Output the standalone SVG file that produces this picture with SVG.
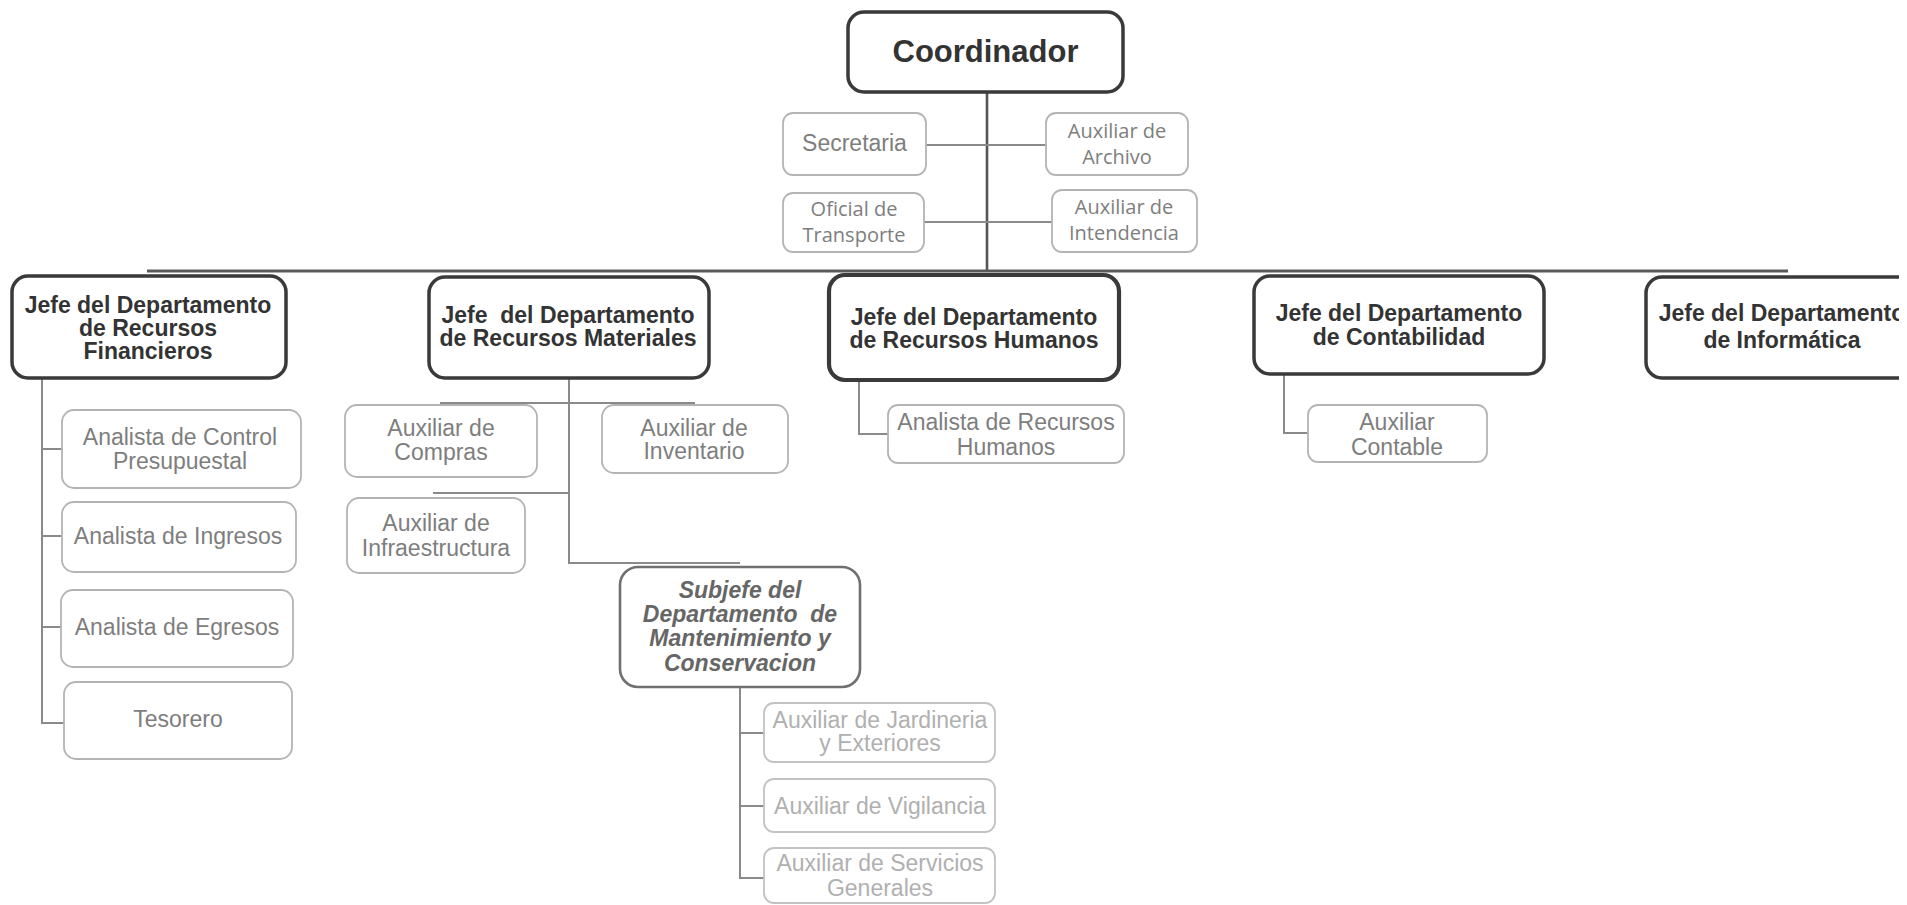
<svg xmlns="http://www.w3.org/2000/svg" width="1907" height="905" viewBox="0 0 1907 905">
<style>
  .head { fill: #ffffff; stroke: #3a3a3a; stroke-width: 3.5; }
  .sub { fill: #ffffff; stroke: #b4b4b4; stroke-width: 1.8; }
  .light { fill: #ffffff; stroke: #c2c2c2; stroke-width: 1.8; }
  .subjefe { fill: #ffffff; stroke: #707070; stroke-width: 2.6; }
  .ht { font-family: "Liberation Sans", Arial, sans-serif; font-weight: bold; font-size: 23px; fill: #333333; text-anchor: middle; }
  .st { font-family: "Liberation Sans", Arial, sans-serif; font-size: 23px; fill: #7e7e7e; text-anchor: middle; }
  .ct { font-family: "Open Sans", "Noto Sans", sans-serif; font-size: 20px; fill: #7e7e7e; text-anchor: middle; }
  .lt { font-family: "Liberation Sans", Arial, sans-serif; font-size: 23px; fill: #b0b0b0; text-anchor: middle; }
  .sj { font-family: "Liberation Sans", Arial, sans-serif; font-weight: bold; font-style: italic; font-size: 23px; fill: #666666; text-anchor: middle; white-space: pre; }
  .c { fill: none; stroke: #8a8a8a; stroke-width: 2; }
  .cd { fill: none; stroke: #555555; stroke-width: 2.6; }
  .bus { fill: none; stroke: #5a5a5a; stroke-width: 3; }
</style>
<defs>
  <clipPath id="clipRight"><rect x="0" y="0" width="1899" height="905"/></clipPath>
</defs>
<rect x="0" y="0" width="1907" height="905" fill="#ffffff"/>

<g id="connectors">
  <line class="cd" x1="987" y1="92" x2="987" y2="271"/>
  <line class="c" x1="926" y1="145" x2="1046" y2="145"/>
  <line class="c" x1="924" y1="222" x2="1052" y2="222"/>
  <line class="bus" x1="147" y1="271" x2="1788" y2="271"/>
  <!-- Financieros -->
  <polyline class="c" points="42,378 42,723 64,723"/>
  <line class="c" x1="42" y1="449" x2="62" y2="449"/>
  <line class="c" x1="42" y1="536" x2="62" y2="536"/>
  <line class="c" x1="42" y1="627" x2="61" y2="627"/>
  <!-- Materiales -->
  <polyline class="c" points="569,378 569,563 740,563"/>
  <line class="c" x1="440" y1="403" x2="695" y2="403"/>
  <line class="c" x1="433" y1="493" x2="569" y2="493"/>
  <!-- Subjefe -->
  <polyline class="c" points="740,687 740,878 764,878"/>
  <line class="c" x1="740" y1="733" x2="764" y2="733"/>
  <line class="c" x1="740" y1="806" x2="764" y2="806"/>
  <!-- Humanos -->
  <polyline class="c" points="859,380 859,434 888,434"/>
  <!-- Contabilidad -->
  <polyline class="c" points="1284,374 1284,433 1308,433"/>
</g>

<g id="coordinador">
  <rect class="head" x="848" y="12" width="275" height="80" rx="16"/>
  <text class="ht" x="985.5" y="62" style="font-size:31px">Coordinador</text>
</g>
<g id="secretaria">
  <rect class="sub" x="783" y="113" width="143" height="62" rx="10"/>
  <text class="st" x="854.5" y="151">Secretaria</text>
</g>
<g id="aux-archivo">
  <rect class="sub" x="1046" y="113" width="142" height="62" rx="10"/>
  <text class="ct" x="1117" y="138">Auxiliar de</text>
  <text class="ct" x="1117" y="164">Archivo</text>
</g>
<g id="oficial-transporte">
  <rect class="sub" x="783" y="193" width="141" height="59" rx="10"/>
  <text class="ct" x="854" y="216">Oficial de</text>
  <text class="ct" x="854" y="242">Transporte</text>
</g>
<g id="aux-intendencia">
  <rect class="sub" x="1052" y="190" width="145" height="62" rx="10"/>
  <text class="ct" x="1124" y="214">Auxiliar de</text>
  <text class="ct" x="1124" y="240">Intendencia</text>
</g>

<g id="jefe-financieros">
  <rect class="head" x="12" y="276" width="274" height="102" rx="16"/>
  <text class="ht" x="148" y="313">Jefe del Departamento</text>
  <text class="ht" x="148" y="336">de Recursos</text>
  <text class="ht" x="148" y="359">Financieros</text>
</g>
<g id="analista-control">
  <rect class="sub" x="62" y="410" width="239" height="78" rx="12"/>
  <text class="st" x="180" y="445">Analista de Control</text>
  <text class="st" x="180" y="469">Presupuestal</text>
</g>
<g id="analista-ingresos">
  <rect class="sub" x="62" y="502" width="234" height="70" rx="12"/>
  <text class="st" x="178" y="544">Analista de Ingresos</text>
</g>
<g id="analista-egresos">
  <rect class="sub" x="61" y="590" width="232" height="77" rx="12"/>
  <text class="st" x="177" y="635">Analista de Egresos</text>
</g>
<g id="tesorero">
  <rect class="sub" x="64" y="682" width="228" height="77" rx="12"/>
  <text class="st" x="178" y="727">Tesorero</text>
</g>

<g id="jefe-materiales">
  <rect class="head" x="429" y="277" width="280" height="101" rx="16"/>
  <text class="ht" x="568" y="323" style="white-space:pre">Jefe  del Departamento</text>
  <text class="ht" x="568" y="346">de Recursos Materiales</text>
</g>
<g id="aux-compras">
  <rect class="sub" x="345" y="405" width="192" height="72" rx="12"/>
  <text class="st" x="441" y="436">Auxiliar de</text>
  <text class="st" x="441" y="460">Compras</text>
</g>
<g id="aux-inventario">
  <rect class="sub" x="602" y="405" width="186" height="68" rx="12"/>
  <text class="st" x="694" y="436">Auxiliar de</text>
  <text class="st" x="694" y="459">Inventario</text>
</g>
<g id="aux-infraestructura">
  <rect class="sub" x="347" y="498" width="178" height="75" rx="12"/>
  <text class="st" x="436" y="531">Auxiliar de</text>
  <text class="st" x="436" y="556">Infraestructura</text>
</g>
<g id="subjefe">
  <rect class="subjefe" x="620" y="567" width="240" height="120" rx="18"/>
  <text class="sj" x="740" y="598">Subjefe del</text>
  <text class="sj" x="740" y="622">Departamento  de</text>
  <text class="sj" x="740" y="646">Mantenimiento y</text>
  <text class="sj" x="740" y="671">Conservacion</text>
</g>
<g id="aux-jardineria">
  <rect class="light" x="764" y="703" width="231" height="59" rx="10"/>
  <text class="lt" x="880" y="728">Auxiliar de Jardineria</text>
  <text class="lt" x="880" y="751">y Exteriores</text>
</g>
<g id="aux-vigilancia">
  <rect class="light" x="764" y="779" width="231" height="53" rx="10"/>
  <text class="lt" x="880" y="814">Auxiliar de Vigilancia</text>
</g>
<g id="aux-servicios">
  <rect class="light" x="764" y="848" width="231" height="55" rx="10"/>
  <text class="lt" x="880" y="871">Auxiliar de Servicios</text>
  <text class="lt" x="880" y="896">Generales</text>
</g>

<g id="jefe-humanos">
  <rect class="head" x="829" y="275" width="290" height="105" rx="16" style="stroke-width:4.2"/>
  <text class="ht" x="974" y="325">Jefe del Departamento</text>
  <text class="ht" x="974" y="348">de Recursos Humanos</text>
</g>
<g id="analista-rh">
  <rect class="sub" x="888" y="405" width="236" height="58" rx="10"/>
  <text class="st" x="1006" y="430">Analista de Recursos</text>
  <text class="st" x="1006" y="455">Humanos</text>
</g>

<g id="jefe-contabilidad">
  <rect class="head" x="1254" y="276" width="290" height="98" rx="16"/>
  <text class="ht" x="1399" y="321">Jefe del Departamento</text>
  <text class="ht" x="1399" y="345">de Contabilidad</text>
</g>
<g id="aux-contable">
  <rect class="sub" x="1308" y="405" width="179" height="57" rx="10"/>
  <text class="st" x="1397" y="430">Auxiliar</text>
  <text class="st" x="1397" y="455">Contable</text>
</g>

<g id="jefe-informatica" clip-path="url(#clipRight)">
  <rect class="head" x="1646" y="277" width="320" height="101" rx="16"/>
  <text class="ht" x="1782" y="321">Jefe del Departamento</text>
  <text class="ht" x="1782" y="348">de Informática</text>
</g>
</svg>
